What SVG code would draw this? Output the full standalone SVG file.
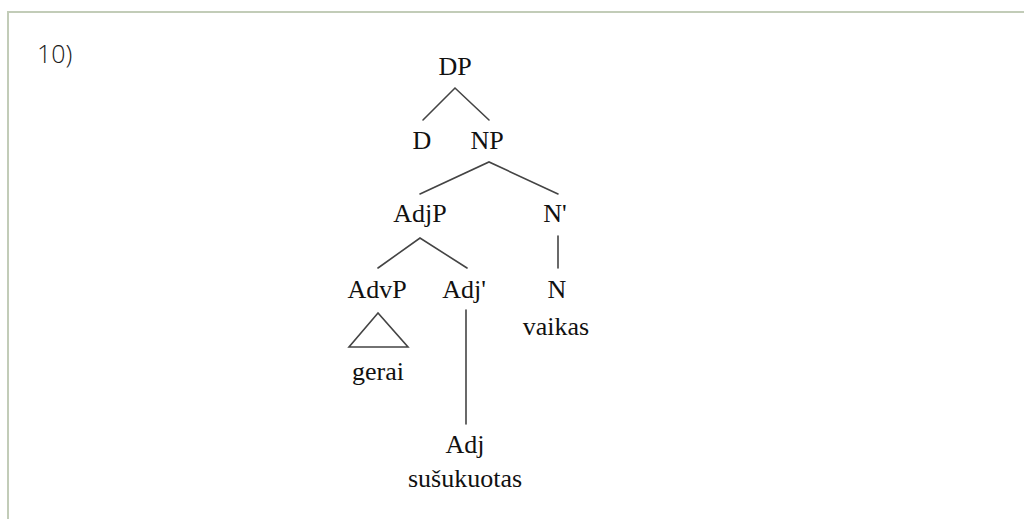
<svg xmlns="http://www.w3.org/2000/svg" width="1024" height="519" viewBox="0 0 1024 519">
<style>
.t{font-family:"Liberation Serif","Times New Roman",serif;font-size:26px;fill:#111;text-anchor:middle}
.e{stroke:#444;stroke-width:1.6;fill:none;stroke-linecap:round}
.num{font-family:"Open Sans","Liberation Sans",sans-serif;font-weight:300;font-size:25px;fill:#1a1a1a}
</style>
<rect width="1024" height="519" fill="#fff"/>
<g id="frame"><path d="M8 519V12H1024" fill="none" stroke="#c2ccb8" stroke-width="2"/></g>
<text class="num" x="37" y="63">10)</text>
<g id="connectors">
<path class="e" d="M423 120L455 88L489 120"/>
<path class="e" d="M420 194L489 162L558 194"/>
<path class="e" d="M558 236V268"/>
<path class="e" d="M378 268L420 238L467 268"/>
<path class="e" d="M466 310V424"/>
<path class="e" d="M378 313L349 347H408Z"/>
</g>
<g id="DP"><text class="t" x="455" y="75">DP</text></g>
<g id="D"><text class="t" x="422" y="149">D</text></g>
<g id="NP"><text class="t" x="487" y="149">NP</text></g>
<g id="AdjP"><text class="t" x="420" y="222">AdjP</text></g>
<g id="Nbar"><text class="t" x="555" y="222">N'</text></g>
<g id="AdvP"><text class="t" x="377" y="298">AdvP</text></g>
<g id="Adjbar"><text class="t" x="464" y="298">Adj'</text></g>
<g id="N"><text class="t" x="557" y="298">N</text><text class="t" x="556" y="335">vaikas</text></g>
<g id="gerai"><text class="t" x="378" y="380">gerai</text></g>
<g id="Adj"><text class="t" x="465" y="453">Adj</text><text class="t" x="465" y="487">sušukuotas</text></g>
</svg>
